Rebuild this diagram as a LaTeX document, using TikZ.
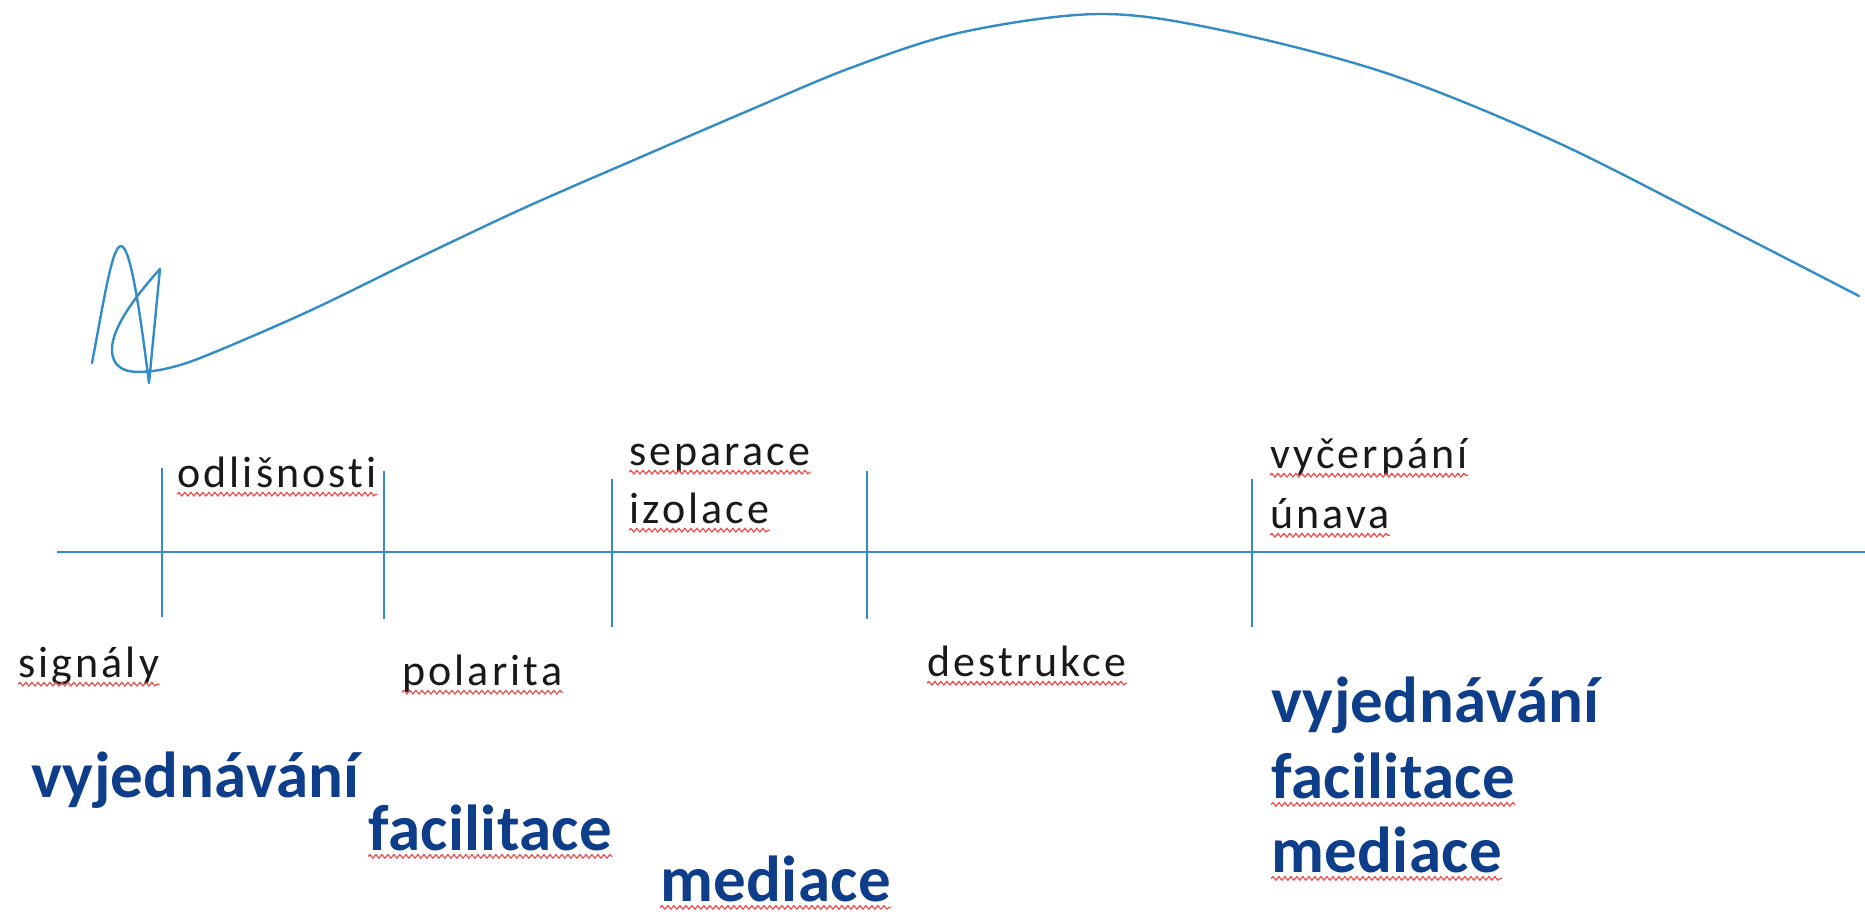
\documentclass[tikz,border=0pt]{standalone}
\usepackage{fontspec}
\setmainfont{Carlito}
\newfontfamily\lblfont[LetterSpace=7.0, RawFeature={-liga}]{Carlito}
\newfontfamily\bigfont[LetterSpace=0.5, RawFeature={-liga}]{Carlito Bold}
\usetikzlibrary{decorations.pathmorphing}
\definecolor{lineblue}{RGB}{52,140,198}
\definecolor{navy}{RGB}{14,62,138}
\definecolor{spellred}{RGB}{240,72,72}
\tikzset{
  axisline/.style={draw=lineblue, line width=1.3pt},
  curveline/.style={draw=lineblue, line width=1.2pt, line join=round, line cap=round},
  small/.style={anchor=base west, inner sep=0pt, text=black!90, font=\lblfont\fontsize{22}{26}\selectfont},
  big/.style={anchor=base west, inner sep=0pt, text=navy, font=\bigfont\fontsize{32.5}{38}\selectfont},
  squiggle/.style={draw=spellred, line width=0.6pt,
    decorate, decoration={snake, amplitude=0.9pt, segment length=3pt}},
}
\newcommand{\spellmark}[2]{%
  \draw[squiggle] ([yshift=-#2]#1.base west) -- ([yshift=-#2]#1.base east);}
\begin{document}
\begin{tikzpicture}[x=0.5pt, y=-0.5pt]
\useasboundingbox (0,0) rectangle (1865,920);

% time axis and phase boundaries
\draw[axisline] (57,552) -- (1865,552);
\draw[axisline] (162,468) -- (162,617);
\draw[axisline] (384,471) -- (384,619);
\draw[axisline] (612,479) -- (612,627);
\draw[axisline] (867,471) -- (867,619);
\draw[axisline] (1252,479) -- (1252,627);

% escalation curve with the scribbled start
\draw[curveline] (92,363) .. controls (104,300) and (112,246) .. (121,246)
  .. controls (131,246) and (141,320) .. (149,383) -- (160,269)
  .. controls (132,300) and (104,338) .. (114,360)
  .. controls (121,375) and (140,372) .. (153,371);
\draw[curveline] plot[smooth, tension=0.55] coordinates {
  (153,371) (195,360) (305,313) (414,260) (524,208) (634,160) (743,113)
  (853,67) (963,32) (1099,14) (1221,30) (1386,73) (1552,140) (1717,223) (1859,296)};

% phase labels
\node[small] (odl) at (177,487) {odlišnosti};
\node[small] (sig) at (18,677) {signály};
\node[small] (pol) at (402,685) {polarita};
\node[small] (sep) at (629,465) {separace};
\node[small] (izo) at (629,523) {izolace};
\node[small] (des) at (927,676) {destrukce};
\node[small] (vyc) at (1270,468) {vyčerpání};
\node[small] (una) at (1270,528) {únava};

% interventions
\node[big] (vyjL) at (31,797) {vyjednávání};
\node[big] (facL) at (368,850) {facilitace};
\node[big] (medL) at (660,901) {mediace};
\node[big] (vyjR) at (1271,722) {vyjednávání};
\node[big] (facR) at (1271,798) {facilitace};
\node[big] (medR) at (1271,872) {mediace};

% spelling marks
\foreach \n in {odl,sig,pol,sep,izo,des,vyc,una} {\spellmark{\n}{3.6pt}}
\foreach \n in {facL,medL,facR,medR} {\spellmark{\n}{3.2pt}}
\end{tikzpicture}
\end{document}
